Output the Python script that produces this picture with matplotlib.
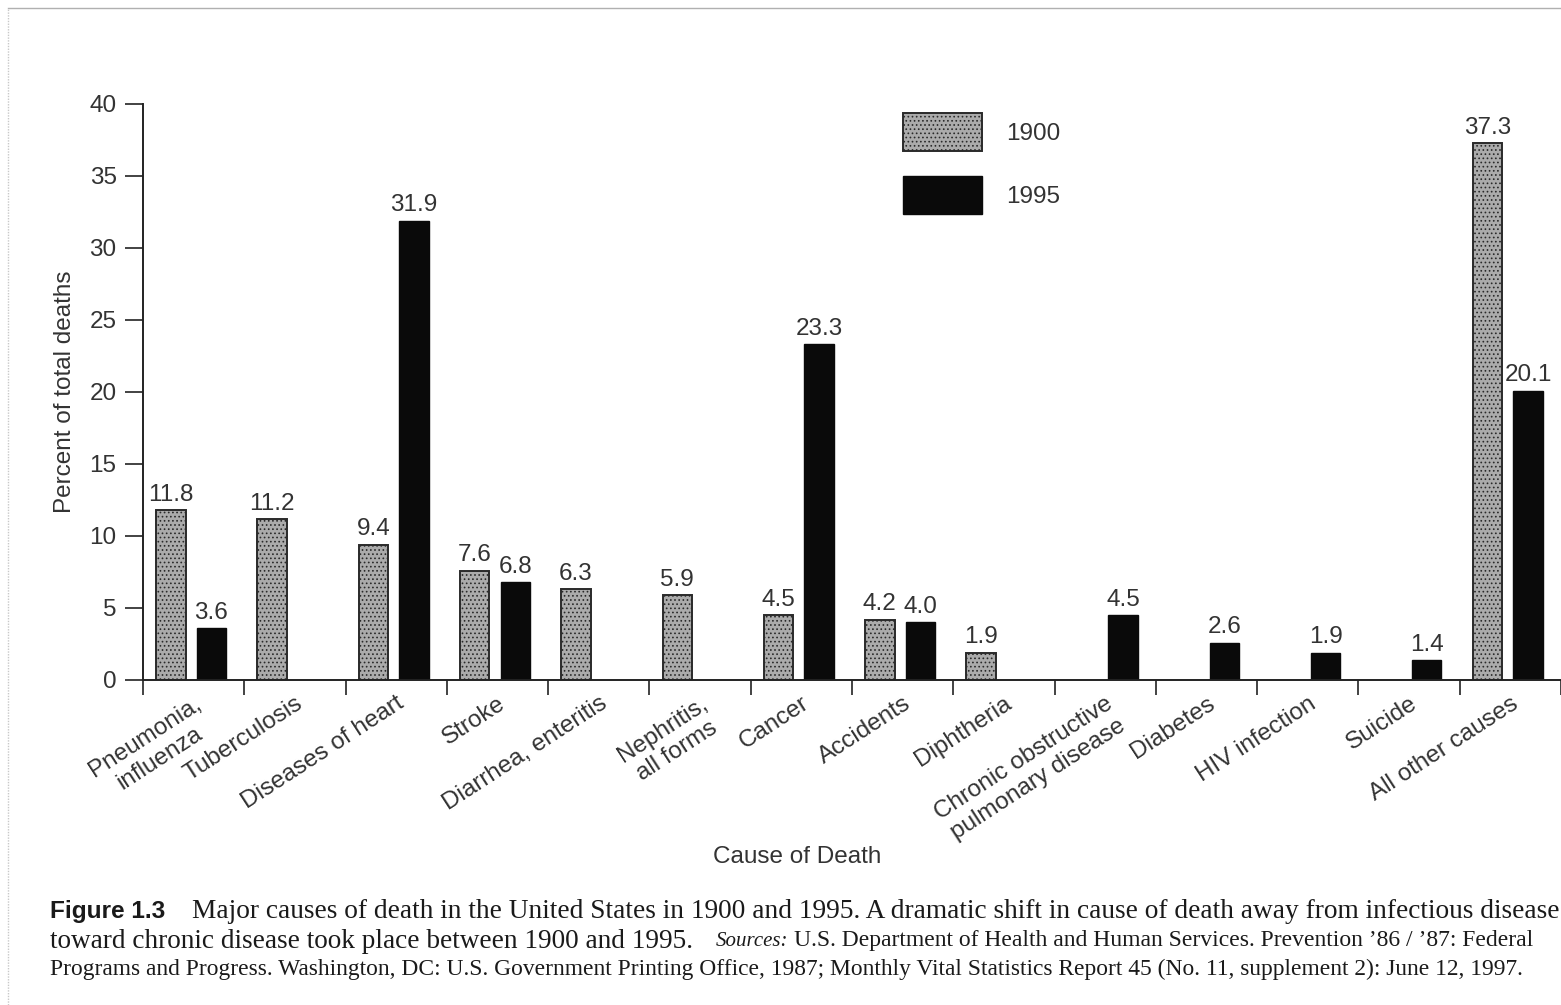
import numpy as np
import matplotlib
matplotlib.use("Agg")
import matplotlib.pyplot as plt
from matplotlib.lines import Line2D

# data
causes = ["Pneumonia,\ninfluenza", "Tuberculosis", "Diseases of heart", "Stroke",
          "Diarrhea, enteritis", "Nephritis,\nall forms", "Cancer", "Accidents",
          "Diphtheria", "Chronic obstructive\npulmonary disease", "Diabetes",
          "HIV infection", "Suicide", "All other causes"]
pct_1900 = [11.8, 11.2, 9.4, 7.6, 6.3, 5.9, 4.5, 4.2, 1.9, None, None, None, None, 37.3]
pct_1995 = [3.6, None, 31.9, 6.8, None, None, 23.3, 4.0, None, 4.5, 2.6, 1.9, 1.4, 20.1]
yticks = [0, 5, 10, 15, 20, 25, 30, 35, 40]

W, H = 1561, 1005
plt.rcParams['font.family'] = ['Liberation Sans', 'DejaVu Sans']
plt.rcParams['hatch.linewidth'] = 0.7
txt = "#333333"

fig = plt.figure(figsize=(W / 100, H / 100), dpi=100)
ax = fig.add_axes([143 / W, (H - 680) / H, (W - 143) / W, 576 / H])

idx = np.arange(len(causes))
i0 = [i for i, v in enumerate(pct_1900) if v is not None]
v0 = [pct_1900[i] for i in i0]
i1 = [i for i, v in enumerate(pct_1995) if v is not None]
v1 = [pct_1995[i] for i in i1]

b0 = ax.bar(np.array(i0) - 0.225, v0, width=0.29, color="#ababab", edgecolor="#2a2a2a",
            linewidth=1.4, hatch="....", label="1900")
b1 = ax.bar(np.array(i1) + 0.175, v1, width=0.29, color="#0a0a0a", edgecolor="#0a0a0a",
            linewidth=1.0, label="1995")

for bars, vals in ((b0, v0), (b1, v1)):
    for r, v in zip(bars, vals):
        ax.annotate(f"{v}", (r.get_x() + r.get_width() / 2, v), xytext=(0, 3),
                    textcoords="offset points", ha="center", va="bottom",
                    fontsize=17.5, color=txt)

ax.set_ylim(0, 40)
ax.set_xlim(-0.5, -0.5 + (W - 143) / 101.7)
ax.set_yticks(yticks)
ax.tick_params(axis="y", labelsize=17.5, labelcolor=txt, length=13, width=1.2,
               color="#222", pad=6)
ax.set_xticks(np.arange(-0.5, len(causes), 1))
ax.set_xticklabels([])
ax.tick_params(axis="x", which="major", length=11, width=1.2, color="#222")
ax.set_xticks(idx, causes, minor=True, rotation=33, ha="right",
              rotation_mode="anchor", multialignment="center",
              fontsize=17.5, color=txt)
ax.tick_params(axis="x", which="minor", length=0, pad=9)

for s in ("top", "right"):
    ax.spines[s].set_visible(False)
for s in ("left", "bottom"):
    ax.spines[s].set_linewidth(1.4)
    ax.spines[s].set_color("#222")

ax.set_ylabel("Percent of total deaths", fontsize=17.5, color=txt, labelpad=10)
fig.text(797 / W, 1 - 857 / H, "Cause of Death", fontsize=17.5, color=txt,
         ha="center", va="center")

ax.legend(handles=[b0, b1], loc="upper left", bbox_to_anchor=(903 / W, 1 - 113 / H),
          bbox_transform=fig.transFigure, frameon=False, fontsize=17.5,
          handlelength=3.25, handleheight=2.06, labelspacing=1.0,
          handletextpad=1.0, borderpad=0, borderaxespad=0, labelcolor=txt)

# page border of the scan
fig.add_artist(Line2D([8 / W, 1], [1 - 8 / H, 1 - 8 / H], color="#b0b0b0", lw=1))
fig.add_artist(Line2D([8 / W, 8 / W], [0, 1 - 8 / H], color="#c8c8c8", lw=1, ls=(0, (1, 1))))

# caption, each piece fitted to the width it has in the scan
renderer = fig.canvas.get_renderer()


def put(x0, x1, y, s, fs, **kw):
    t = fig.text(x0 / W, 1 - y / H, s, fontsize=fs, va="baseline", color="#1a1a1a", **kw)
    w = t.get_window_extent(renderer).width
    t.set_fontsize(fs * (x1 - x0) / w)
    return t


serif = ["Liberation Serif", "DejaVu Serif"]
put(50, 166, 918, "Figure 1.3", 15, fontweight="bold")
put(192, 1557, 918, "Major causes of death in the United States in 1900 and 1995. "
    "A dramatic shift in cause of death away from infectious disease", 17, family=serif)
put(50, 693, 948, "toward chronic disease took place between 1900 and 1995.", 17, family=serif)
put(716, 788, 946, "Sources:", 13, family=serif, style="italic")
put(794, 1535, 946, "U.S. Department of Health and Human Services. Prevention \u201986 / \u201987: Federal",
    14, family=serif)
put(50, 1530, 975, "Programs and Progress. Washington, DC: U.S. Government Printing Office, 1987; "
    "Monthly Vital Statistics Report 45 (No. 11, supplement 2): June 12, 1997.", 14, family=serif)

fig.savefig("out.png", dpi=100)
